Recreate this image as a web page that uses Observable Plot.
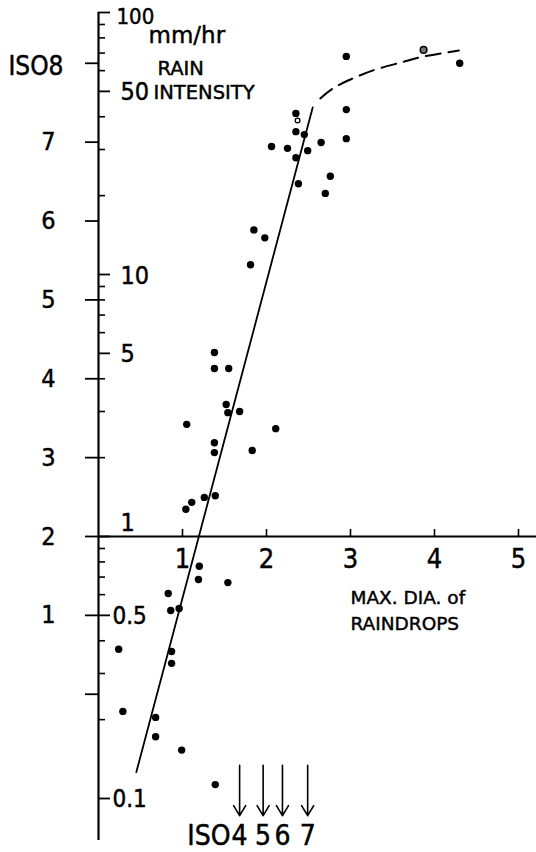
<!DOCTYPE html>
<html><head><meta charset="utf-8">
<script src="https://cdn.jsdelivr.net/npm/d3@7"></script>
<script src="https://cdn.jsdelivr.net/npm/@observablehq/plot@0.6"></script>
<style>html,body{margin:0;padding:0;background:#fff;overflow:hidden}</style>
</head><body><div id="chart"></div>
<script>
// Maximum raindrop diameter (mm) and rain intensity (mm/hr) of observed points
const dropDia  = [2.95, 4.30, 2.95, 2.95, 2.35, 2.35, 2.45, 2.06, 2.25, 2.49, 2.65, 2.35, 2.76, 2.38, 2.70,
                  1.85, 1.98, 1.81, 1.38, 1.38, 1.55, 1.52, 1.54, 1.68, 1.05, 2.11, 1.38, 1.38, 1.83,
                  1.26, 1.39, 1.11, 1.04, 1.20, 1.19, 1.54, 0.83, 0.86, 0.96, 0.24, 0.87, 0.87, 0.29,
                  0.68, 0.68, 0.99, 1.39];
const rainRate = [68, 64, 42.6, 33.0, 41.2, 35.1, 34.2, 30.8, 30.3, 29.7, 31.9, 27.9, 23.7, 22.2, 20.4,
                  14.8, 13.8, 10.9, 5.04, 4.38, 4.38, 3.19, 2.97, 3.00, 2.68, 2.58, 2.28, 2.09, 2.13,
                  1.41, 1.43, 1.35, 1.27, 0.77, 0.685, 0.667, 0.606, 0.522, 0.531, 0.371, 0.364, 0.328, 0.215,
                  0.204, 0.172, 0.153, 0.113];
// two points drawn as open marks
const openDia  = [3.87, 2.37];
const openRate = [72, 38.7];
// fitted straight line and dashed extension
const fitDia  = [0.45, 2.55];
const fitRate = [0.126, 43.4];
const curveDia  = [2.64, 2.79, 3.00, 3.30, 3.60, 3.87, 4.29];
const curveRate = [47.0, 51.3, 55.5, 60.6, 64.4, 67.9, 71.6];
// ISO levels and equivalent rain intensity
const isoLevels = [0, 1, 2, 3, 4, 5, 6, 7, 8];
const isoRate   = [0.25, 0.5, 1, 2, 4, 8, 16, 32, 64];
// rain intensity axis ticks
const rateMajor = [0.1, 0.5, 1, 5, 10, 50, 100];
const rateMinor = [0.2, 0.3, 0.4, 0.6, 0.7, 0.8, 0.9, 2, 3, 4, 6, 7, 8, 9, 20, 30, 40, 60, 70, 80, 90];
// diameter axis ticks
const diaTicks = [1, 2, 3, 4, 5];
// ISO limit arrows on diameter axis
const arrowIso = [4, 5, 6, 7];
const arrowDia = [1.68, 1.96, 2.19, 2.49];

const W = 536, H = 852, ML = 98, MR = 18, MT = 12, MB = 54;
const FW = W - ML - MR;
const font = "'DejaVu Sans Condensed', 'DejaVu Sans', sans-serif";
const wide = "'DejaVu Sans', sans-serif";
const ink = {fill: "black", stroke: "black", strokeWidth: 0.45, lineAnchor: "middle"};

const pts = dropDia.map((d, i) => ({d, r: rainRate[i]}));
const openPts = openDia.map((d, i) => ({d, r: openRate[i]}));
const fit = fitDia.map((d, i) => ({d, r: fitRate[i]}));
const curve = curveDia.map((d, i) => ({d, r: curveRate[i]}));
const iso = isoLevels.map((l, i) => ({l, r: isoRate[i]}));
const arrows = arrowIso.map((l, i) => ({l, d: arrowDia[i]}));

const chart = Plot.plot({
  width: W, height: H,
  marginLeft: ML, marginRight: MR, marginTop: MT, marginBottom: MB,
  x: {domain: [0, 5], axis: null},
  y: {type: "log", domain: [0.1, 100], axis: null},
  style: {fontFamily: font, background: "white", color: "black", overflow: "visible"},
  marks: [
    // axes lines
    Plot.ruleX([0], {stroke: "black", strokeWidth: 2.2, insetBottom: -42}),
    Plot.ruleY([1], {stroke: "black", strokeWidth: 2, insetRight: -MR}),
    // intensity ticks (right of axis)
    Plot.ruleY(rateMajor, {stroke: "black", strokeWidth: 1.8, insetRight: FW - 12}),
    Plot.ruleY(rateMinor, {stroke: "black", strokeWidth: 1.6, insetRight: FW - 7}),
    // ISO ticks (left of axis)
    Plot.ruleY(iso, {y: "r", stroke: "black", strokeWidth: 1.8, insetLeft: -13, insetRight: FW}),
    // diameter ticks
    Plot.ruleX(diaTicks, {x: d => d, y1: 1, y2: 1, insetTop: -7, stroke: "black", strokeWidth: 1.6}),
    // ISO labels
    Plot.text(iso.filter(d => d.l >= 1 && d.l <= 7), {...ink, x: 0, y: "r", text: d => String(d.l), dx: -50, textAnchor: "middle", fontSize: 25}),
    Plot.text(iso.filter(d => d.l === 8), {...ink, x: 0, y: "r", text: d => "ISO" + d.l, dx: -35, dy: 3, textAnchor: "end", fontSize: 26}),
    // intensity labels
    Plot.text(rateMajor.filter(v => v >= 5 && v <= 50), {...ink, x: 0, y: d => d, text: d => String(d), dx: 22, dy: 1, textAnchor: "start", fontSize: 25}),
    Plot.text(rateMajor.filter(v => v === 1), {...ink, x: 0, y: d => d, text: d => String(d), dx: 22, dy: -14, textAnchor: "start", fontSize: 25}),
    Plot.text(rateMajor.filter(v => v < 1), {...ink, x: 0, y: d => d, text: d => String(d), dx: 14, dy: 1, textAnchor: "start", fontSize: 24}),
    Plot.text(rateMajor.filter(v => v === 100), {...ink, x: 0, y: d => d, text: d => String(d), dx: 18, dy: 4, textAnchor: "start", fontSize: 22}),
    Plot.text(["mm/hr"], {...ink, frameAnchor: "top-left", dx: 50, dy: 23, textAnchor: "start", fontSize: 23, fontFamily: wide}),
    Plot.text(["RAIN"], {...ink, frameAnchor: "top-left", dx: 59, dy: 56, textAnchor: "start", fontSize: 19.5, fontFamily: wide}),
    Plot.text(["INTENSITY"], {...ink, frameAnchor: "top-left", dx: 55, dy: 80, textAnchor: "start", fontSize: 19.5, fontFamily: wide}),
    // diameter labels
    Plot.text(diaTicks, {...ink, x: d => d, y: 1, text: d => String(d), dy: 23, fontSize: 27}),
    Plot.text(["MAX. DIA. of"], {...ink, frameAnchor: "top-left", dx: 252, dy: 586, textAnchor: "start", fontSize: 18.5, fontFamily: wide}),
    Plot.text(["RAINDROPS"], {...ink, frameAnchor: "top-left", dx: 252, dy: 612, textAnchor: "start", fontSize: 18.5, fontFamily: wide}),
    // fitted line and extension
    Plot.line(fit, {x: "d", y: "r", stroke: "black", strokeWidth: 1.8}),
    Plot.line(curve, {x: "d", y: "r", curve: "natural", stroke: "black", strokeWidth: 2, strokeDasharray: "15,8"}),
    // points
    Plot.dot(pts, {x: "d", y: "r", r: 3.7, fill: "black", stroke: "none"}),
    Plot.dot(openPts.slice(0, 1), {x: "d", y: "r", r: 3.3, fill: "#777", stroke: "black", strokeWidth: 1.5}),
    Plot.dot(openPts.slice(1), {x: "d", y: "r", r: 2.4, fill: "white", stroke: "black", strokeWidth: 1.3}),
    // ISO arrows
    Plot.arrow(arrows, {x: "d", y1: 0.134, y2: 0.086, stroke: "black", strokeWidth: 1.6, headLength: 11, headAngle: 62}),
    Plot.text(arrows, {...ink, x: "d", text: d => String(d.l), frameAnchor: "bottom", dy: 38, fontSize: 28}),
    Plot.text(arrows.slice(0, 1), {...ink, x: "d", text: () => "ISO", frameAnchor: "bottom", dy: 38, dx: -9, textAnchor: "end", fontSize: 28})
  ]
});
document.getElementById("chart").appendChild(chart);
</script>
</body></html>
